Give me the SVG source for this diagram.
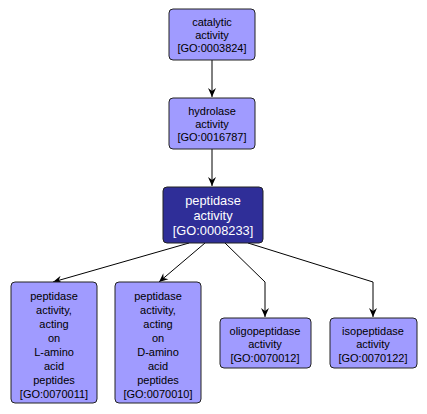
<svg xmlns="http://www.w3.org/2000/svg" width="427" height="414" viewBox="0 0 427 414">
<style>
.n{fill:#a09bff;stroke:#222;stroke-width:1}
.d{fill:#2f2e98;stroke:#222;stroke-width:1}
text{font-family:"Liberation Sans",Arial,sans-serif;font-size:11px;text-anchor:middle;fill:#000}
.w{fill:#fff;font-size:12.8px}
.e{fill:none;stroke:#000;stroke-width:1}
</style>
<defs>
<marker id="a" markerWidth="10" markerHeight="10" refX="9" refY="5" orient="auto" markerUnits="userSpaceOnUse">
<path d="M0,1 L9,5 L0,9 L3,5 z" fill="#000"/>
</marker>
</defs>
<rect width="427" height="414" fill="#fff"/>
<g id="edges">
<path class="e" d="M212,60 L212,97" marker-end="url(#a)"/>
<path class="e" d="M212,149 L212,186" marker-end="url(#a)"/>
<path class="e" d="M189,243 L53,282" marker-end="url(#a)"/>
<path class="e" d="M205,243 L159,282" marker-end="url(#a)"/>
<path class="e" d="M225,243 L265,282 L265,317" marker-end="url(#a)"/>
<path class="e" d="M248,243 L373,282 L373,317" marker-end="url(#a)"/>
</g>
<g id="catalytic">
<rect class="n" x="169" y="9" width="86" height="51" rx="4"/>
<text x="212" y="26">catalytic</text>
<text x="212" y="39">activity</text>
<text x="212" y="52">[GO:0003824]</text>
</g>
<g id="hydrolase">
<rect class="n" x="169" y="98" width="86" height="51" rx="4"/>
<text x="212" y="115">hydrolase</text>
<text x="212" y="128">activity</text>
<text x="212" y="141">[GO:0016787]</text>
</g>
<g id="peptidase">
<rect class="d" x="163" y="187" width="100" height="56" rx="4"/>
<text class="w" x="213" y="205">peptidase</text>
<text class="w" x="213" y="220">activity</text>
<text class="w" x="213" y="235">[GO:0008233]</text>
</g>
<g id="lamino">
<rect class="n" x="11" y="282" width="86" height="121" rx="4"/>
<text x="54" y="300">peptidase</text>
<text x="54" y="314">activity,</text>
<text x="54" y="328">acting</text>
<text x="54" y="342">on</text>
<text x="54" y="356">L-amino</text>
<text x="54" y="370">acid</text>
<text x="54" y="384">peptides</text>
<text x="54" y="398">[GO:0070011]</text>
</g>
<g id="damino">
<rect class="n" x="115" y="282" width="86" height="121" rx="4"/>
<text x="158" y="300">peptidase</text>
<text x="158" y="314">activity,</text>
<text x="158" y="328">acting</text>
<text x="158" y="342">on</text>
<text x="158" y="356">D-amino</text>
<text x="158" y="370">acid</text>
<text x="158" y="384">peptides</text>
<text x="158" y="398">[GO:0070010]</text>
</g>
<g id="oligo">
<rect class="n" x="220" y="318" width="91" height="50" rx="4"/>
<text x="265" y="335">oligopeptidase</text>
<text x="265" y="348">activity</text>
<text x="265" y="362">[GO:0070012]</text>
</g>
<g id="iso">
<rect class="n" x="330" y="318" width="87" height="50" rx="4"/>
<text x="373" y="335">isopeptidase</text>
<text x="373" y="348">activity</text>
<text x="373" y="362">[GO:0070122]</text>
</g>
</svg>
